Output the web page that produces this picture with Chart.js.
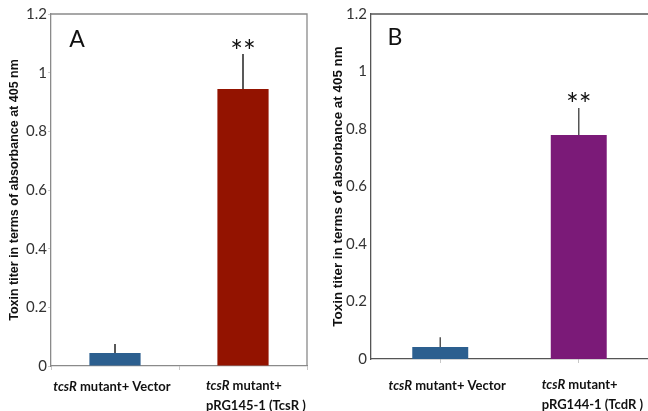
<!DOCTYPE html>
<html>
<head>
<meta charset="utf-8">
<script src="https://cdn.jsdelivr.net/npm/chart.js@4/dist/chart.umd.min.js"></script>
<style>
  body { margin: 0; background: #fff; }
  canvas { position: absolute; top: 0; }
</style>
</head>
<body>
<canvas id="chartA" width="320" height="411" style="left:0"></canvas>
<canvas id="chartB" width="328" height="411" style="left:320px"></canvas>
<script>
// panel A data
const categoriesA = [['tcsR mutant+ Vector'], ['tcsR mutant+', 'pRG145-1 (TcsR )']];
const valuesA = [0.044, 0.944];
const errorsA = [0.031, 0.12];
const marksA = ['', '**'];
const colorsA = ['#2c5f8f', '#931300'];

// panel B data
const categoriesB = [['tcsR mutant+ Vector'], ['tcsR mutant+', 'pRG144-1 (TcdR )']];
const valuesB = [0.042, 0.779];
const errorsB = [0.034, 0.094];
const marksB = ['', '**'];
const colorsB = ['#2c5f8f', '#7b1a78'];

const yTicks = [0, 0.2, 0.4, 0.6, 0.8, 1, 1.2];
const yTitle = 'Toxin titer in terms of absorbance at 405 nm';

// text with the gene name in italics
function drawRich(ctx, text, x, y, align, size) {
  const parts = text.startsWith('tcsR') ? [['tcsR', 'italic bold'], [text.slice(4), 'bold']] : [[text, 'bold']];
  let total = 0;
  parts.forEach(p => { ctx.font = p[1] + ' ' + size + 'px Lato'; total += ctx.measureText(p[0]).width; });
  let cx = align === 'center' ? x - total / 2 : x;
  ctx.textAlign = 'left';
  parts.forEach(p => {
    ctx.font = p[1] + ' ' + size + 'px Lato';
    ctx.fillText(p[0], cx, y);
    cx += ctx.measureText(p[0]).width;
  });
}

const extras = {
  id: 'extras',
  afterDraw(chart, args, o) {
    const ctx = chart.ctx, ca = chart.chartArea;
    const xs = chart.scales.x, ys = chart.scales.y;
    ctx.save();
    // frame
    ctx.strokeStyle = o.frameColor;
    ctx.lineWidth = 1.3;
    ctx.beginPath();
    ctx.moveTo(ca.left, ca.top);
    ctx.lineTo(ca.right, ca.top);
    if (o.rightLine) ctx.lineTo(ca.right, ca.bottom);
    ctx.stroke();
    // error bars and stars
    o.values.forEach((v, i) => {
      const x = xs.getPixelForValue(i);
      const top = ys.getPixelForValue(v + o.errors[i]);
      ctx.strokeStyle = o.errColor;
      ctx.lineWidth = 1.5;
      ctx.beginPath();
      ctx.moveTo(x, ys.getPixelForValue(v));
      ctx.lineTo(x, top);
      ctx.stroke();
      if (o.marks[i]) {
        ctx.fillStyle = '#111';
        ctx.font = '30px Lato';
        ctx.textAlign = 'center';
        ctx.textBaseline = 'alphabetic';
        ctx.fillText(o.marks[i], x, top + o.markDy);
      }
    });
    // panel letter
    ctx.fillStyle = '#111';
    ctx.font = '23px Lato';
    ctx.textAlign = 'center';
    ctx.textBaseline = 'middle';
    ctx.fillText(o.letter, o.letterX, o.letterY);
    // category labels
    ctx.fillStyle = '#111';
    ctx.textBaseline = 'middle';
    o.categories.forEach((lines, i) => {
      const x = xs.getPixelForValue(i);
      if (lines.length === 1) {
        drawRich(ctx, lines[0], x + o.labelShift, ca.bottom + 21 + o.labelDy, 'center', 13);
      } else {
        lines.forEach((t, j) => drawRich(ctx, t, x - 37, ca.bottom + 20 + o.labelDy + j * 19.5, 'left', 13));
      }
    });
    ctx.restore();
  }
};

function makeChart(id, cats, vals, errs, marks, colors, o) {
  return new Chart(document.getElementById(id), {
    type: 'bar',
    data: {
      labels: cats.map(c => c.join(' ')),
      datasets: [{
        data: vals,
        backgroundColor: colors,
        categoryPercentage: 1,
        barPercentage: o.barFrac
      }]
    },
    options: {
      responsive: false,
      animation: false,
      layout: { padding: { top: 14, right: o.padRight, left: 0, bottom: 0 } },
      plugins: {
        legend: { display: false },
        tooltip: { enabled: false },
        extras: {
          values: vals, errors: errs, marks: marks, categories: cats,
          letter: o.letter, letterX: o.letterX, letterY: o.letterY,
          frameColor: o.axisColor, rightLine: o.rightLine, labelShift: o.labelShift,
          labelDy: o.labelDy, markDy: o.markDy, errColor: o.errColor
        }
      },
      scales: {
        x: {
          grid: { display: true, drawOnChartArea: false, tickLength: 4, color: '#c8c8c8', offset: o.gridOffset },
          ticks: { display: false },
          border: { color: o.axisColor, width: 1.3 },
          afterFit: s => { s.height = o.xHeight; }
        },
        y: {
          min: 0, max: 1.2,
          afterBuildTicks: s => { s.ticks = yTicks.map(v => ({ value: v })); },
          grid: { display: o.yTickMarks, drawOnChartArea: false, tickLength: 3, color: '#c8c8c8' },
          border: { color: o.axisColor, width: 1.3 },
          ticks: {
            font: { family: 'Lato', size: 15 }, color: '#333', padding: 1,
            callback: v => String(+v.toFixed(1))
          },
          title: {
            display: true, text: yTitle, color: '#111',
            font: { family: 'Liberation Sans', weight: 'bold', size: o.titleSize },
            padding: { top: o.titlePad, bottom: 0 }
          },
          afterFit: s => { s.width = 51; }
        }
      }
    },
    plugins: [extras]
  });
}

makeChart('chartA', categoriesA, valuesA, errorsA, marksA, colorsA, {
  barFrac: 0.4, padRight: 13, xHeight: 45, axisColor: '#8a8a8a', rightLine: true, yTickMarks: true,
  gridOffset: true, letter: 'A', letterX: 77, letterY: 40, titleSize: 12.5, titlePad: 7,
  labelShift: -3, labelDy: 0, markDy: 8, errColor: '#222'
});
makeChart('chartB', categoriesB, valuesB, errorsB, marksB, colorsB, {
  barFrac: 0.404, padRight: 0, xHeight: 52, axisColor: '#555', rightLine: false, yTickMarks: false,
  gridOffset: false, letter: 'B', letterX: 75, letterY: 38, titleSize: 13.4, titlePad: 10,
  labelShift: 7, labelDy: 6, markDy: 7, errColor: '#555'
});
</script>
</body>
</html>
